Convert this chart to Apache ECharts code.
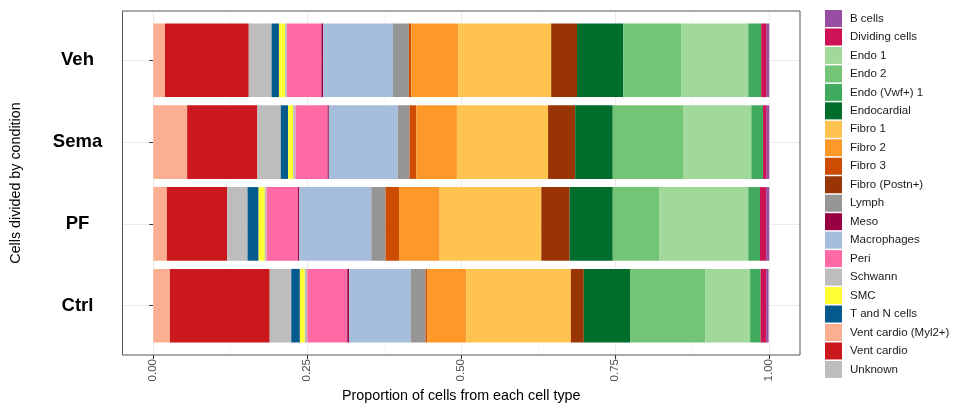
<!DOCTYPE html>
<html>
<head>
<meta charset="utf-8">
<script src="https://cdn.jsdelivr.net/npm/echarts@6/dist/echarts.min.js"></script>
<style>
html,body{margin:0;padding:0;background:#fff;}
#chart{width:954px;height:416px;}
</style>
</head>
<body>
<div id="chart"></div>
<script>
// Conditions (top to bottom)
const conditions = ['Veh', 'Sema', 'PF', 'Ctrl'];

// Cell types in stacking order (left to right)
const stackOrder = [
  'Vent cardio (Myl2+)', 'Vent cardio', 'Schwann', 'T and N cells', 'SMC', 'Unknown',
  'Peri', 'Meso', 'Macrophages', 'Lymph', 'Fibro 3', 'Fibro 2', 'Fibro 1',
  'Fibro (Postn+)', 'Endocardial', 'Endo 2', 'Endo 1', 'Endo (Vwf+) 1',
  'Dividing cells', 'B cells'
];

// Legend order
const legendOrder = [
  'B cells', 'Dividing cells', 'Endo 1', 'Endo 2', 'Endo (Vwf+) 1', 'Endocardial',
  'Fibro 1', 'Fibro 2', 'Fibro 3', 'Fibro (Postn+)', 'Lymph', 'Meso', 'Macrophages',
  'Peri', 'Schwann', 'SMC', 'T and N cells', 'Vent cardio (Myl2+)', 'Vent cardio', 'Unknown'
];

// Proportions per condition, in stackOrder
const vehValues  = [0.019,0.136,0.037,0.012,0.010,0.003,0.056,0.003,0.113,0.026,0.004,0.076,0.151,0.042,0.075,0.094,0.109,0.021,0.009,0.004];
const semaValues = [0.055,0.114,0.038,0.012,0.008,0.004,0.052,0.002,0.112,0.019,0.011,0.066,0.148,0.044,0.061,0.114,0.111,0.019,0.006,0.004];
const pfValues   = [0.022,0.098,0.033,0.018,0.010,0.003,0.051,0.002,0.117,0.023,0.022,0.066,0.165,0.046,0.070,0.076,0.144,0.019,0.010,0.005];
const ctrlValues = [0.027,0.162,0.035,0.014,0.008,0.004,0.065,0.003,0.100,0.024,0.003,0.063,0.170,0.021,0.075,0.122,0.073,0.017,0.009,0.004];

// X tick values
const xTicks = [0, 0.25, 0.5, 0.75, 1];

const colors = {
  'B cells': '#984EA3',
  'Dividing cells': '#CE1256',
  'Endo 1': '#A1D99B',
  'Endo 2': '#74C476',
  'Endo (Vwf+) 1': '#41AB5D',
  'Endocardial': '#006D2C',
  'Fibro 1': '#FEC44F',
  'Fibro 2': '#FE9929',
  'Fibro 3': '#CC4C02',
  'Fibro (Postn+)': '#993404',
  'Lymph': '#969696',
  'Meso': '#980043',
  'Macrophages': '#A6BDDB',
  'Peri': '#FF69A4',
  'Schwann': '#BDBDBD',
  'SMC': '#FFFF33',
  'T and N cells': '#045A8D',
  'Vent cardio (Myl2+)': '#FCAE91',
  'Vent cardio': '#CB181D',
  'Unknown': '#BDBDBD'
};

const FONT = "'Liberation Sans', Arial, Helvetica, sans-serif";
const rows = [vehValues, semaValues, pfValues, ctrlValues];

const series = stackOrder.map((name, i) => {
  const s = {
    name: name,
    type: 'bar',
    stack: 'total',
    xAxisIndex: 0,
    yAxisIndex: 0,
    barWidth: '90%',
    itemStyle: { color: colors[name] },
    emphasis: { disabled: true },
    data: rows.map(r => r[i])
  };
  if (i === 0) {
    s.markLine = {
      silent: true,
      symbol: 'none',
      label: { show: false },
      lineStyle: { color: '#EBEBEB', width: 1, type: 'solid' },
      z: 0,
      data: conditions.map(c => ({ yAxis: c }))
    };
  }
  return s;
});

const chart = echarts.init(document.getElementById('chart'), null, { renderer: 'canvas' });
chart.setOption({
  animation: false,
  backgroundColor: '#ffffff',
  textStyle: { fontFamily: FONT },
  grid: [
    { left: 122.5, width: 677.5, top: 19.4, height: 327.2, outerBoundsMode: 'none', containLabel: false },
    { left: 153.3, width: 615.9, top: 11, height: 344, outerBoundsMode: 'none', containLabel: false }
  ],
  xAxis: [
    {
      type: 'value', gridIndex: 0, min: -0.05, max: 1.05,
      axisLine: { show: false }, axisTick: { show: false }, axisLabel: { show: false },
      splitLine: { show: false }
    },
    {
      type: 'value', gridIndex: 1, min: 0, max: 1, interval: 0.25,
      position: 'bottom',
      axisLine: { show: false },
      axisTick: { show: true, length: 4, lineStyle: { color: '#333333', width: 1 } },
      axisLabel: {
        show: true, rotate: 90, margin: 4, fontSize: 11.5, color: '#4D4D4D', fontFamily: FONT,
        formatter: v => xTicks.indexOf(v) >= 0 ? v.toFixed(2) : ''
      },
      splitLine: { show: true, lineStyle: { color: '#EBEBEB', width: 1 } },
      minorTick: { show: false, splitNumber: 2 },
      minorSplitLine: { show: true, lineStyle: { color: '#F3F3F3', width: 0.6 } },
      name: 'Proportion of cells from each cell type',
      nameLocation: 'middle', nameGap: 31,
      nameTextStyle: { fontSize: 14.3, color: '#000000', fontFamily: FONT }
    }
  ],
  yAxis: [
    {
      type: 'category', gridIndex: 0, data: conditions, inverse: true,
      axisLine: { show: false },
      axisTick: { show: true, alignWithLabel: true, length: 4, lineStyle: { color: '#333333', width: 1 } },
      axisLabel: {
        show: true, align: 'center', margin: 45, fontSize: 18.5, fontWeight: 'bold',
        color: '#000000', fontFamily: FONT
      },
      splitLine: { show: false }
    },
    {
      type: 'value', gridIndex: 1, min: 0, max: 1, show: false,
      splitLine: { show: false }
    }
  ],
  legend: {
    orient: 'vertical',
    left: 820, top: 5,
    itemWidth: 17, itemHeight: 17, itemGap: 1.47,
    icon: 'rect',
    selectedMode: false,
    data: legendOrder,
    textStyle: { fontSize: 11.5, color: '#1A1A1A', fontFamily: FONT, padding: [0, 0, 0, 3] }
  },
  graphic: [
    {
      type: 'rect', silent: true, z: 100,
      shape: { x: 122.5, y: 11, width: 677.5, height: 344 },
      style: { fill: 'none', stroke: '#555555', lineWidth: 1 }
    },
    {
      type: 'text', silent: true, x: 16, y: 183, rotation: Math.PI / 2,
      style: {
        text: 'Cells divided by condition', fontSize: 14.3, fontFamily: FONT,
        fill: '#000000', textAlign: 'center', textVerticalAlign: 'middle'
      }
    }
  ],
  series: series
});
</script>
</body>
</html>
